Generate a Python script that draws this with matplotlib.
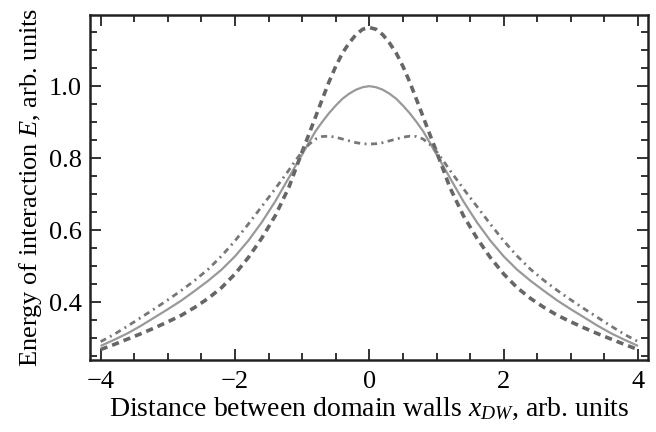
import matplotlib
matplotlib.use("Agg")
import matplotlib.pyplot as plt
from matplotlib.ticker import MultipleLocator

plt.rcParams['font.family'] = ['Liberation Serif', 'DejaVu Serif']
plt.rcParams['mathtext.fontset'] = 'custom'
plt.rcParams['mathtext.rm'] = 'Liberation Serif'
plt.rcParams['mathtext.it'] = 'Liberation Serif:italic'

x = [-4.0, -3.8, -3.6, -3.4, -3.2, -3.0, -2.8, -2.6, -2.4, -2.2, -2.0,
     -1.8, -1.6, -1.4, -1.2, -1.1, -1.0, -0.9, -0.8, -0.7, -0.6, -0.5,
     -0.4, -0.3, -0.2, -0.1, 0.0,
     0.1, 0.2, 0.3, 0.4, 0.5, 0.6, 0.7, 0.8, 0.9, 1.0, 1.1, 1.2,
     1.4, 1.6, 1.8, 2.0, 2.2, 2.4, 2.6, 2.8, 3.0, 3.2, 3.4, 3.6, 3.8, 4.0]

solid = [0.278, 0.295, 0.313, 0.334, 0.357, 0.380, 0.404, 0.431, 0.459, 0.490, 0.527,
         0.571, 0.622, 0.680, 0.745, 0.778, 0.810, 0.843, 0.875, 0.901, 0.925, 0.946,
         0.965, 0.979, 0.990, 0.997, 1.000,
         0.997, 0.990, 0.979, 0.965, 0.946, 0.925, 0.901, 0.875, 0.843, 0.810, 0.778, 0.745,
         0.680, 0.622, 0.571, 0.527, 0.490, 0.459, 0.431, 0.404, 0.380, 0.357, 0.334, 0.313, 0.295, 0.278]

dashed = [0.268, 0.282, 0.297, 0.312, 0.328, 0.345, 0.363, 0.385, 0.410, 0.440, 0.478,
          0.524, 0.578, 0.640, 0.718, 0.768, 0.818, 0.866, 0.915, 0.964, 1.012, 1.055,
          1.092, 1.120, 1.143, 1.158, 1.163,
          1.158, 1.143, 1.120, 1.092, 1.055, 1.012, 0.964, 0.915, 0.866, 0.818, 0.768, 0.718,
          0.640, 0.578, 0.524, 0.478, 0.440, 0.410, 0.385, 0.363, 0.345, 0.328, 0.312, 0.297, 0.282, 0.268]

dashdot = [0.290, 0.310, 0.333, 0.357, 0.381, 0.406, 0.432, 0.460, 0.491, 0.528, 0.570,
           0.617, 0.666, 0.715, 0.766, 0.793, 0.818, 0.838, 0.853, 0.860, 0.861, 0.858,
           0.853, 0.848, 0.843, 0.840, 0.839,
           0.840, 0.843, 0.848, 0.853, 0.858, 0.861, 0.860, 0.853, 0.838, 0.818, 0.793, 0.766,
           0.715, 0.666, 0.617, 0.570, 0.528, 0.491, 0.460, 0.432, 0.406, 0.381, 0.357, 0.333, 0.310, 0.290]

fig = plt.figure(figsize=(6.56, 4.32), dpi=100)
ax = fig.add_axes([0.137, 0.1667, 0.851, 0.798])

ax.plot(x, solid, color='#999999', lw=1.6, solid_capstyle='butt', solid_joinstyle='round')
ax.plot(x, dashed, color='#666666', lw=2.6, dashes=(2.0, 1.4))
ax.plot(x, dashdot, color='#777777', lw=2.0, dashes=(2.2, 1.6, 0.7, 1.6))

ax.set_xlim(-4.16, 4.15)
ax.set_ylim(0.239, 1.197)

ax.xaxis.set_major_locator(MultipleLocator(2))
ax.xaxis.set_minor_locator(MultipleLocator(0.5))
ax.yaxis.set_major_locator(MultipleLocator(0.2))
ax.yaxis.set_minor_locator(MultipleLocator(0.05))

ax.tick_params(which='both', direction='in', top=True, right=True, width=1.3, color='#222222')
ax.tick_params(which='major', length=8, labelsize=19)
ax.tick_params(axis='x', which='major', pad=8)
ax.tick_params(axis='y', which='major', pad=6)
ax.tick_params(which='minor', length=5)
for s in ax.spines.values():
    s.set_linewidth(1.8)
    s.set_color('#222222')

ax.set_xticks([-4, -2, 0, 2, 4])
ax.set_xticklabels(['\u22124', '\u22122', '0', '2', '4'])
ax.set_yticks([0.4, 0.6, 0.8, 1.0])
ax.set_yticklabels(['0.4', '0.6', '0.8', '1.0'])

ax.set_xlabel('Distance between domain walls $x_{DW}$, arb. units', fontsize=20, labelpad=2)
ax.set_ylabel('Energy of interaction $E$, arb. units', fontsize=19, labelpad=3)

fig.savefig('out.png', dpi=100)
